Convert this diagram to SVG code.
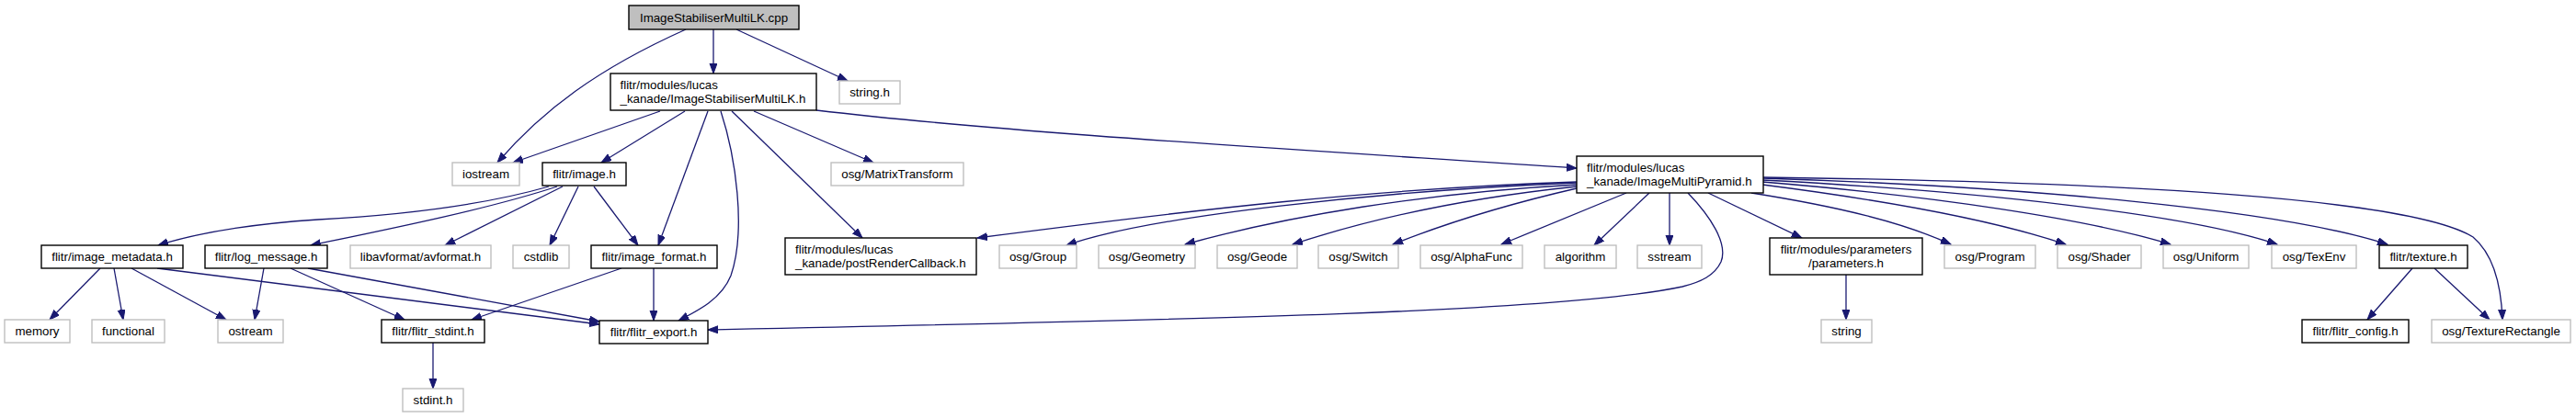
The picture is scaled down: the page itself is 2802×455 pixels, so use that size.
<svg xmlns="http://www.w3.org/2000/svg" width="2802" height="455" viewBox="0 0 2802 455">
<style>
  .n rect { fill: #ffffff; stroke: #000000; stroke-width: 1.4; }
  .n.x rect { stroke: #bfbfbf; }
  .n.root rect { fill: #bfbfbf; }
  text { font-family: "Liberation Sans", Arial, sans-serif; font-size: 13.3px; fill: #000000; }
  .c { text-anchor: middle; }
  #edges path { fill: none; stroke: #191970; stroke-width: 1.3; marker-end: url(#ah); }
</style>
<defs>
  <marker id="ah" markerUnits="userSpaceOnUse" markerWidth="12" markerHeight="9" refX="11" refY="4" orient="auto">
    <path d="M0,0 L11,4 L0,8 z" fill="#191970" stroke="#191970" stroke-width="1"/>
  </marker>
</defs>
<rect width="2802" height="455" fill="#ffffff"/>

<g id="edges">
  <path d="M746,32 C650,75 590,120 541,177"/>
  <path d="M776,32 L776,80"/>
  <path d="M801,32 L922,88"/>
  <path d="M718,121 L558,177"/>
  <path d="M745,121 L654,177"/>
  <path d="M770,121 L716,267"/>
  <path d="M784,121 C800,170 812,250 795,300 C785,325 760,338 738,349"/>
  <path d="M796,121 L938,259"/>
  <path d="M820,121 L950,177"/>
  <path d="M888,120 C1100,145 1400,162 1715,183"/>
  <path d="M597,203 C520,225 420,235 346,239 C270,244 210,255 172,267"/>
  <path d="M606,203 C530,228 420,250 338,267"/>
  <path d="M612,203 L484,267"/>
  <path d="M629,203 L598,267"/>
  <path d="M646,203 L694,267"/>
  <path d="M109,292 L54,348"/>
  <path d="M124,292 L134,348"/>
  <path d="M143,292 L246,348"/>
  <path d="M171,292 L652,353"/>
  <path d="M287,292 L277,348"/>
  <path d="M316,292 L440,348"/>
  <path d="M335,292 L652,350"/>
  <path d="M676,292 L513,348"/>
  <path d="M711,292 L711,349"/>
  <path d="M471,373 L471,423"/>
  <path d="M1715,198 C1500,205 1300,228 1063,259"/>
  <path d="M1715,199 C1500,208 1250,235 1160,267"/>
  <path d="M1715,201 C1550,210 1400,235 1289,266"/>
  <path d="M1715,203 C1600,215 1500,235 1406,266"/>
  <path d="M1715,205 C1650,220 1580,240 1515,266"/>
  <path d="M1769,210 L1633,266"/>
  <path d="M1794,210 L1734,267"/>
  <path d="M1816,210 L1816,267"/>
  <path d="M1836,210 C1860,235 1880,265 1872,285 C1865,300 1850,307 1830,312 C1700,340 1300,348 770,359"/>
  <path d="M1858,210 L1960,259"/>
  <path d="M1905,210 C2000,225 2070,242 2122,266"/>
  <path d="M1917,201 C2050,218 2170,240 2247,266"/>
  <path d="M1917,198 C2100,213 2270,238 2361,266"/>
  <path d="M1917,196 C2150,208 2380,233 2477,266"/>
  <path d="M1917,194 C2200,203 2480,228 2597,266"/>
  <path d="M1917,193 C2300,198 2620,215 2690,258 C2716,280 2721,320 2722,348"/>
  <path d="M2624,292 L2575,348"/>
  <path d="M2648,292 L2708,348"/>
  <path d="M2008,299 L2008,348"/>
</g>

<g id="node_cpp" class="n root"><rect x="684" y="6" width="185" height="26"/><text class="c" x="776.5" y="23.5">ImageStabiliserMultiLK.cpp</text></g>
<g id="node_ismlk" class="n"><rect x="664" y="80" width="224" height="40"/><text x="674.5" y="97">flitr/modules/lucas</text><text x="674.5" y="111.5">_kanade/ImageStabiliserMultiLK.h</text></g>
<g id="node_string_h" class="n x"><rect x="913" y="88" width="66" height="25"/><text class="c" x="946" y="105">string.h</text></g>
<g id="node_iostream" class="n x"><rect x="492" y="177" width="73" height="25"/><text class="c" x="528.5" y="194">iostream</text></g>
<g id="node_image_h" class="n"><rect x="590" y="177" width="91" height="25"/><text class="c" x="635.5" y="194">flitr/image.h</text></g>
<g id="node_matrixtransform" class="n x"><rect x="904" y="177" width="144" height="25"/><text class="c" x="976" y="194">osg/MatrixTransform</text></g>
<g id="node_pyramid" class="n"><rect x="1715" y="170" width="203" height="40"/><text x="1726" y="187">flitr/modules/lucas</text><text x="1726" y="201.5">_kanade/ImageMultiPyramid.h</text></g>
<g id="node_image_metadata" class="n"><rect x="45" y="267" width="154" height="25"/><text class="c" x="122" y="284">flitr/image_metadata.h</text></g>
<g id="node_log_message" class="n"><rect x="223" y="267" width="133" height="25"/><text class="c" x="289.5" y="284">flitr/log_message.h</text></g>
<g id="node_avformat" class="n x"><rect x="381" y="267" width="153" height="25"/><text class="c" x="457.5" y="284">libavformat/avformat.h</text></g>
<g id="node_cstdlib" class="n x"><rect x="558" y="267" width="61" height="25"/><text class="c" x="588.5" y="284">cstdlib</text></g>
<g id="node_image_format" class="n"><rect x="643" y="267" width="137" height="25"/><text class="c" x="711.5" y="284">flitr/image_format.h</text></g>
<g id="node_postrender" class="n"><rect x="854" y="259" width="208" height="40"/><text x="865" y="276">flitr/modules/lucas</text><text x="865" y="290.5">_kanade/postRenderCallback.h</text></g>
<g id="node_group" class="n x"><rect x="1087" y="267" width="84" height="25"/><text class="c" x="1129" y="284">osg/Group</text></g>
<g id="node_geometry" class="n x"><rect x="1195" y="267" width="105" height="25"/><text class="c" x="1247.5" y="284">osg/Geometry</text></g>
<g id="node_geode" class="n x"><rect x="1324" y="267" width="87" height="25"/><text class="c" x="1367.5" y="284">osg/Geode</text></g>
<g id="node_switch" class="n x"><rect x="1434" y="267" width="87" height="25"/><text class="c" x="1477.5" y="284">osg/Switch</text></g>
<g id="node_alphafunc" class="n x"><rect x="1545" y="267" width="111" height="25"/><text class="c" x="1600.5" y="284">osg/AlphaFunc</text></g>
<g id="node_algorithm" class="n x"><rect x="1680" y="267" width="78" height="25"/><text class="c" x="1719" y="284">algorithm</text></g>
<g id="node_sstream" class="n x"><rect x="1781" y="267" width="70" height="25"/><text class="c" x="1816" y="284">sstream</text></g>
<g id="node_parameters" class="n"><rect x="1925" y="259" width="166" height="40"/><text class="c" x="2008" y="276">flitr/modules/parameters</text><text class="c" x="2008" y="290.5">/parameters.h</text></g>
<g id="node_program" class="n x"><rect x="2115" y="267" width="99" height="25"/><text class="c" x="2164.5" y="284">osg/Program</text></g>
<g id="node_shader" class="n x"><rect x="2238" y="267" width="91" height="25"/><text class="c" x="2283.5" y="284">osg/Shader</text></g>
<g id="node_uniform" class="n x"><rect x="2353" y="267" width="93" height="25"/><text class="c" x="2399.5" y="284">osg/Uniform</text></g>
<g id="node_texenv" class="n x"><rect x="2471" y="267" width="92" height="25"/><text class="c" x="2517" y="284">osg/TexEnv</text></g>
<g id="node_texture" class="n"><rect x="2588" y="267" width="96" height="25"/><text class="c" x="2636" y="284">flitr/texture.h</text></g>
<g id="node_memory" class="n x"><rect x="5" y="348" width="71" height="25"/><text class="c" x="40.5" y="365">memory</text></g>
<g id="node_functional" class="n x"><rect x="100" y="348" width="79" height="25"/><text class="c" x="139.5" y="365">functional</text></g>
<g id="node_ostream" class="n x"><rect x="237" y="348" width="71" height="25"/><text class="c" x="272.5" y="365">ostream</text></g>
<g id="node_flitr_stdint" class="n"><rect x="415" y="348" width="112" height="25"/><text class="c" x="471" y="365">flitr/flitr_stdint.h</text></g>
<g id="node_flitr_export" class="n"><rect x="652" y="349" width="118" height="25"/><text class="c" x="711" y="366">flitr/flitr_export.h</text></g>
<g id="node_string" class="n x"><rect x="1981" y="348" width="55" height="25"/><text class="c" x="2008.5" y="365">string</text></g>
<g id="node_flitr_config" class="n"><rect x="2504" y="348" width="116" height="25"/><text class="c" x="2562" y="365">flitr/flitr_config.h</text></g>
<g id="node_texturerect" class="n x"><rect x="2645" y="348" width="151" height="25"/><text class="c" x="2720.5" y="365">osg/TextureRectangle</text></g>
<g id="node_stdint_h" class="n x"><rect x="438" y="423" width="66" height="25"/><text class="c" x="471" y="440">stdint.h</text></g>
</svg>
